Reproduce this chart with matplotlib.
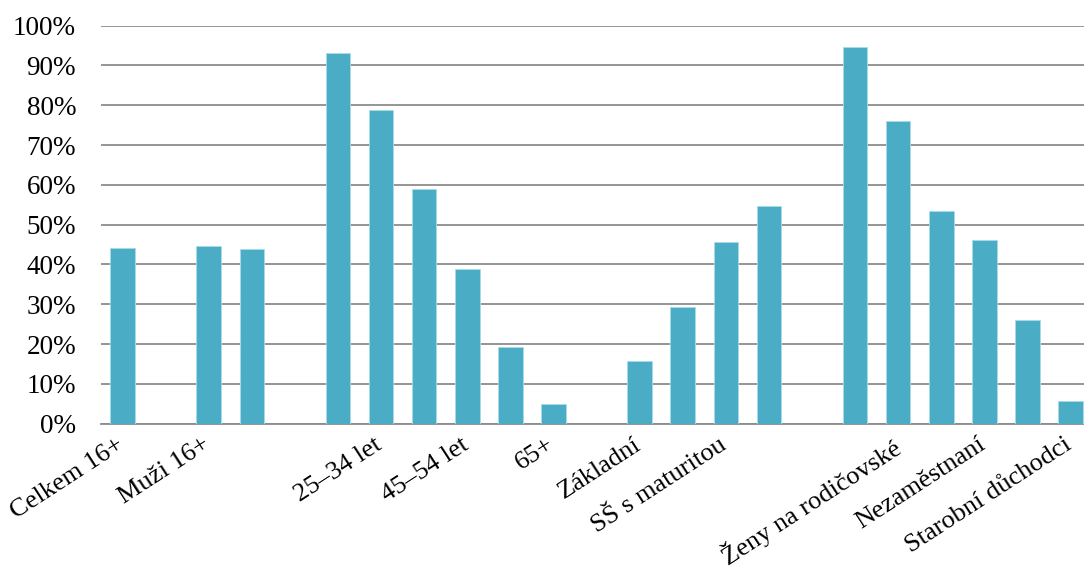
import numpy as np
import matplotlib.pyplot as plt
import matplotlib.transforms as mtransforms
from matplotlib.ticker import PercentFormatter

# bar values in %, None = empty slot between groups
values = [44.2, None, 44.6, 43.8, None,
          93.2, 78.7, 58.9, 38.8, 19.3, 5.0, None,
          15.8, 29.3, 45.6, 54.7, None,
          94.6, 76.1, 53.5, 46.1, 26.0, 5.7]
# only every other slot carries a label
tick_labels = ["Celkem 16+", "Muži 16+", "", "25–34 let", "45–54 let", "65+",
               "Základní", "SŠ s maturitou", "", "Ženy na rodičovské",
               "Nezaměstnaní", "Starobní důchodci"]

plt.rcParams['font.family'] = ['Liberation Serif', 'DejaVu Serif']

fig = plt.figure(figsize=(10.84, 5.72), dpi=100)
ax = fig.add_axes([101/1084, 1 - 423.7/572, 1 - 101/1084, (423.7 - 25.7)/572])

x = np.arange(len(values))
h = np.array([np.nan if v is None else v for v in values])
ax.bar(x, h, width=0.57, color="#4BACC6", edgecolor="#a8dbe8", linewidth=0.6, zorder=3)

ax.set_ylim(0, 100)
ax.set_xlim(-0.5, -0.5 + (1084 - 101) / 43.09)
ax.set_yticks(np.arange(0, 101, 10))
ax.yaxis.set_major_formatter(PercentFormatter(decimals=0))
ax.grid(axis="y", color="#8c8c8c", linewidth=1.3, zorder=0)
ax.set_axisbelow(True)

ax.set_xticks(x[::2])
ax.set_xticklabels(tick_labels, rotation=33, ha="right", rotation_mode="anchor")
ax.tick_params(axis="both", length=0, colors="black")
ax.tick_params(axis="x", pad=7, labelsize=19)
ax.tick_params(axis="y", pad=18, labelsize=19.5)

# nudge the rotated labels a little to the left
shift = mtransforms.ScaledTranslation(-7/100, 0, fig.dpi_scale_trans)
for lab in ax.get_xticklabels():
    lab.set_transform(lab.get_transform() + shift)

for s in ["top", "right", "left"]:
    ax.spines[s].set_visible(False)
ax.spines["bottom"].set_color("#8c8c8c")
ax.spines["bottom"].set_linewidth(1.3)

fig.savefig("out.png", dpi=100)
